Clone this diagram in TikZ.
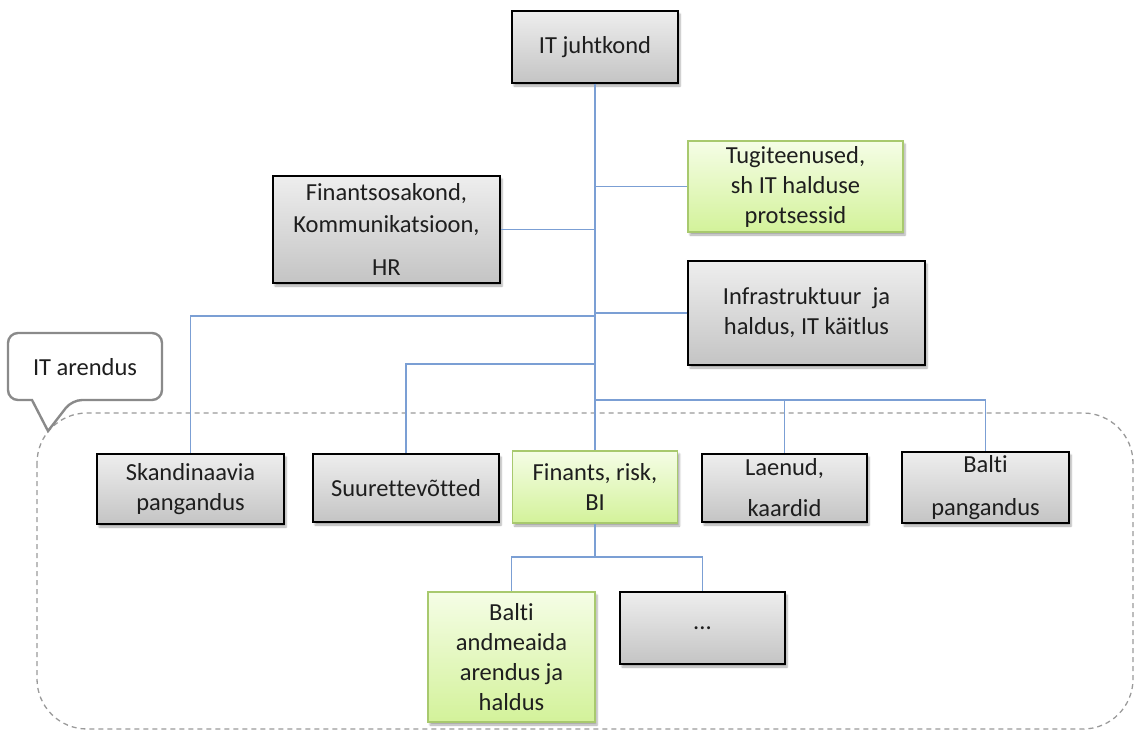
\documentclass[tikz,border=0pt]{standalone}
\usepackage{fontspec}
\setmainfont{Carlito}[Ligatures=NoCommon]
\usetikzlibrary{shadows.blur}
\definecolor{conn}{HTML}{7B9FD4}
\definecolor{graytop}{HTML}{EEEEEE}
\definecolor{graybot}{HTML}{C4C4C4}
\definecolor{greentop}{HTML}{F5FDE6}
\definecolor{greenbot}{HTML}{D3F29A}
\definecolor{greenline}{HTML}{A8C96E}
\definecolor{dashgray}{HTML}{9A9A9A}
\definecolor{callgray}{HTML}{8A8A8A}
\definecolor{txt}{HTML}{1E1E1E}
\begin{document}
\begin{tikzpicture}[x=1pt,y=-1pt,
  font=\fontsize{24.5}{30}\selectfont,
  base/.style={align=center, inner sep=0pt, text=txt,
    blur shadow={shadow xshift=2pt, shadow yshift=-3pt, shadow opacity=35, shadow blur steps=4}},
  graybox/.style={base, draw=black, line width=1.4pt, top color=graytop, bottom color=graybot},
  greenbox/.style={base, draw=greenline, line width=1.2pt, top color=greentop, bottom color=greenbot},
  connector/.style={draw=conn, line width=1.4pt},
]
\useasboundingbox (0,0) rectangle (1135,731);

% dashed group frame
\draw[dashgray, line width=1.3pt, dash pattern=on 5pt off 4pt, rounded corners=50pt]
  (37,413) rectangle (1133,729);

% callout
\draw[callgray, fill=white, line width=2.4pt, rounded corners=10pt]
  (32,400) -- (8,400) -- (8,333) -- (162,333) -- (162,400) -- (72,400) [sharp corners] -- (48,431) -- cycle;
\node[text=txt, inner sep=0pt] (itarendus) at (85,367) {IT arendus};

\coordinate (j1) at (595,316);
\coordinate (j2) at (595,364);
\coordinate (j3) at (595,400);
\coordinate (j4) at (595,557);

\node[graybox, minimum width=166pt, minimum height=72pt] (top) at (595,47) {IT juhtkond};
\node[greenbox, minimum width=215pt, minimum height=91pt] (tug) at (795.5,186.5) {Tugiteenused,\\sh IT halduse\\protsessid};
\node[graybox, minimum width=227pt, minimum height=107pt] (fo) at (386.5,229.5) {Finantsosakond,\\[2pt]Kommunikatsioon,\\[13pt]HR};
\node[graybox, minimum width=237pt, minimum height=104pt] (infra) at (806.5,313) {Infrastruktuur\ \ ja\\haldus, IT käitlus};

\node[graybox, minimum width=187pt, minimum height=70pt] (sk) at (190.5,489) {Skandinaavia\\pangandus};
\node[graybox, minimum width=186pt, minimum height=68pt] (su) at (406,488) {Suurettevõtted};
\node[greenbox, minimum width=165pt, minimum height=72pt] (fin) at (595,487) {Finants, risk,\\BI};
\node[graybox, minimum width=165pt, minimum height=68pt] (la) at (784.5,488) {Laenud,\\[11pt]kaardid};
\node[graybox, minimum width=167pt, minimum height=71pt] (ba) at (985.5,487.5) {Balti\\[13pt]pangandus};

\node[greenbox, minimum width=167pt, minimum height=130pt] (bad) at (511.5,657) {Balti\\andmeaida\\arendus ja\\haldus};
\node[graybox, minimum width=165pt, minimum height=72pt] (dots) at (702.5,628) {...};

% connectors
\draw[connector] (top.south) -- (fin.north);
\draw[connector] (tug.west) -- (tug.west -| top.south);
\draw[connector] (fo.east) -- (fo.east -| top.south);
\draw[connector] (infra.west) -- (infra.west -| top.south);
\draw[connector] (j1) -| (sk.north);
\draw[connector] (j2) -| (su.north);
\draw[connector] (j3) -| (la.north);
\draw[connector] (j3) -| (ba.north);
\draw[connector] (fin.south) -- (j4);
\draw[connector] (j4) -| (bad.north);
\draw[connector] (j4) -| (dots.north);
\end{tikzpicture}
\end{document}
